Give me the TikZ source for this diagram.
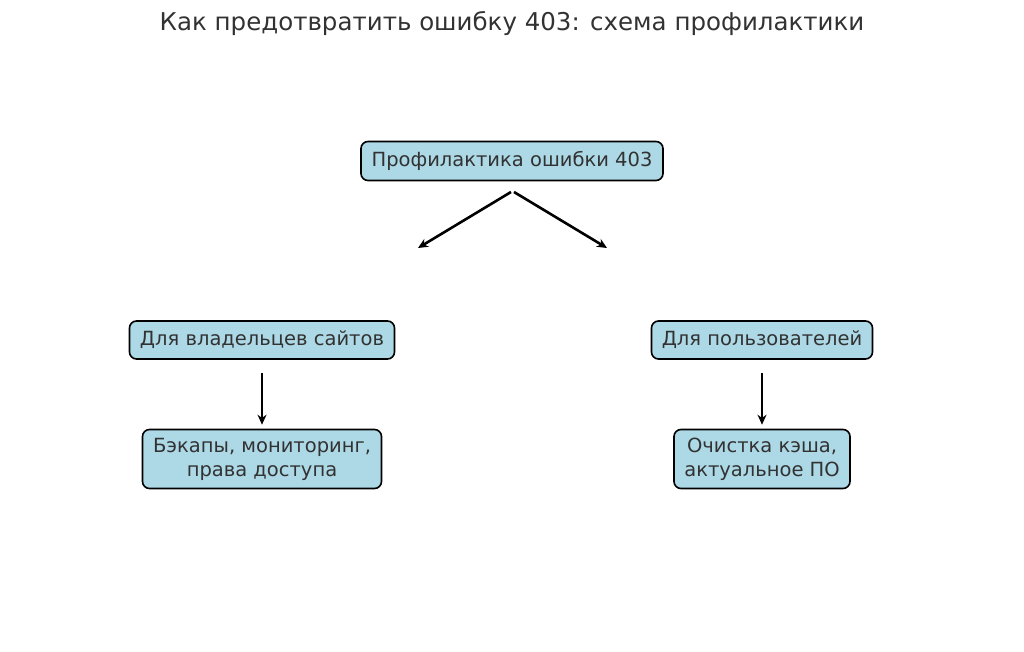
\documentclass[tikz,border=0pt]{standalone}
\usepackage{fontspec}
\setmainfont{DejaVu Sans}
\usetikzlibrary{arrows.meta}
\definecolor{boxblue}{RGB}{173,216,230}
\definecolor{txt}{RGB}{50,50,50}
\tikzset{
  box/.style={draw,line width=1.6pt,rounded corners=7,fill=boxblue,text=txt,align=center,font=\fontsize{19.5}{24}\selectfont,inner xsep=6pt,inner ysep=0pt},
  link/.style={-{Stealth[length=10pt,width=9pt]},line width=2.6pt}
}
\begin{document}
\begin{tikzpicture}[x=1pt,y=1pt]
\useasboundingbox (0,0) rectangle (1024,651);

% Title.
\node[text=txt,font=\fontsize{24.5}{28}\selectfont] (title) at (512,627) {Как предотвратить ошибку 403: схема профилактики};

% Boxes.
\node[box,minimum width=302,minimum height=39] (root) at (512,490) {Профилактика ошибки 403};
\node[box,minimum width=265,minimum height=38] (owners) at (262,311) {Для владельцев сайтов};
\node[box,minimum width=221,minimum height=38] (users) at (762,311) {Для пользователей};
\node[box,minimum width=239,minimum height=59] (ownersdo) at (262,192) {Бэкапы, мониторинг,\\права доступа};
\node[box,minimum width=176,minimum height=59] (usersdo) at (762,192) {Очистка кэша,\\актуальное ПО};

% Free arrow ends.
\coordinate (rootl) at (511,459);
\coordinate (rootr) at (514,459);
\coordinate (leftend) at (418,403);
\coordinate (rightend) at (607,403);

% Arrows.
\draw[link] (rootl) -- (leftend);
\draw[link] (rootr) -- (rightend);
\draw[link] ([yshift=-13]owners.south) -- ([yshift=4]ownersdo.north);
\draw[link] ([yshift=-13]users.south) -- ([yshift=4]usersdo.north);

\end{tikzpicture}
\end{document}
